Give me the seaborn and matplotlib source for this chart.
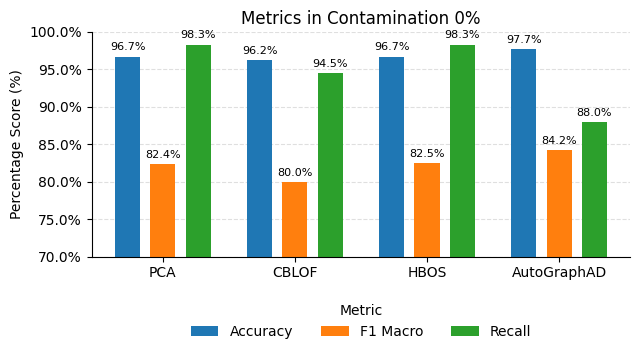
import seaborn as sns
import pandas as pd
import matplotlib.pyplot as plt
from matplotlib.ticker import PercentFormatter

models = ['PCA', 'CBLOF', 'HBOS', 'AutoGraphAD']
metrics = ['Accuracy', 'F1 Macro', 'Recall']
accuracy = [96.7, 96.2, 96.7, 97.7]
f1_macro = [82.4, 80.0, 82.5, 84.2]
recall = [98.3, 94.5, 98.3, 88.0]

rows = []
for i, m in enumerate(models):
    rows.append((m, 'Accuracy', accuracy[i]))
    rows.append((m, 'F1 Macro', f1_macro[i]))
    rows.append((m, 'Recall', recall[i]))
df = pd.DataFrame(rows, columns=['Model', 'Metric', 'Score'])

fig, ax = plt.subplots(figsize=(6.4, 3.54), dpi=100)
sns.barplot(data=df, x='Model', y='Score', hue='Metric', hue_order=metrics,
            palette=['#1f77b4', '#ff7f0e', '#2ca02c'], gap=0.29, width=0.8,
            saturation=1, ax=ax)

for c in ax.containers:
    ax.bar_label(c, labels=[f'{v:.1f}%' for v in c.datavalues], fontsize=8, padding=3)

ax.set_xlim(-0.54, 3.54)
ax.set_ylim(70, 100)
ax.yaxis.set_major_formatter(PercentFormatter(decimals=1))
ax.set_xlabel('')
ax.set_ylabel('Percentage Score (%)')
ax.set_title('Metrics in Contamination 0%')
ax.grid(axis='y', linestyle='--', alpha=0.4)
ax.set_axisbelow(True)
sns.despine(ax=ax)
ax.tick_params(labelsize=10)
sns.move_legend(ax, 'upper center', bbox_to_anchor=(0.5, -0.155), ncol=3,
                frameon=False, title='Metric')

fig.subplots_adjust(left=0.143, right=0.985, top=0.91, bottom=0.275)
fig.savefig('out.png', dpi=100)
